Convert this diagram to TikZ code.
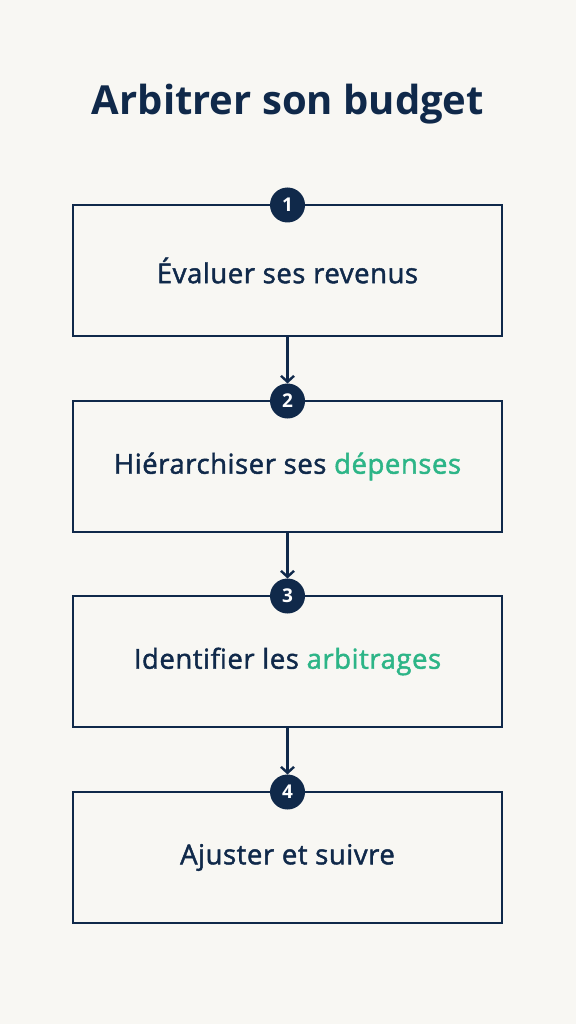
\documentclass[tikz,border=0pt]{standalone}
\usepackage{fontspec}
\setmainfont{Open Sans}
\newfontfamily\semibold[FakeBold=1.6,LetterSpace=2]{Open Sans}
\usetikzlibrary{positioning,arrows.meta}
\definecolor{navy}{HTML}{10294A}
\definecolor{mint}{HTML}{2DB587}
\definecolor{paper}{HTML}{F8F7F3}

\begin{document}
\begin{tikzpicture}[x=1pt,y=-1pt,
    stage/.style={rectangle,draw=navy,line width=2.4pt,inner sep=0pt,outer sep=0pt,
		minimum width=429pt,minimum height=131pt,
		text=navy,font=\fontsize{27.5}{31}\semibold},
    badge/.style={circle,fill=navy,text=white,inner sep=0pt,outer sep=0pt,
		minimum size=35pt,font=\fontsize{19}{19}\selectfont\bfseries},
    link/.style={draw=navy,line width=2.4pt,
		-{Straight Barb[length=6pt,width=13pt,line width=2.4pt]}},
% Title style
    headline/.style={text=navy,font=\fontsize{40}{44}\selectfont\bfseries}
    ]
\fill [paper] (0,0) rectangle (576,1024);
\node [headline] (title) at (288,104) {Arbitrer son budget};

\node [stage] (step1) at (287.5,270.5) {Évaluer ses revenus};
\node [stage,below=65pt of step1] (step2) {Hiérarchiser ses \textcolor{mint}{dépenses}};
\node [stage,below=64pt of step2] (step3) {Identifier les \textcolor{mint}{arbitrages}};
\node [stage,below=65pt of step3] (step4) {Ajuster et suivre};

\node [badge] (num1) at (step1.north) {1};
\node [badge] (num2) at (step2.north) {2};
\node [badge] (num3) at (step3.north) {3};
\node [badge] (num4) at (step4.north) {4};

\draw [link] (step1) -- (num2);
\draw [link] (step2) -- (num3);
\draw [link] (step3) -- (num4);
\end{tikzpicture}
\end{document}
